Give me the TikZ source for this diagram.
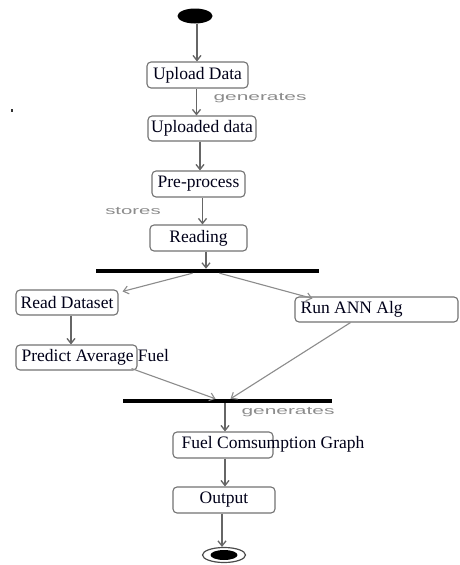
\documentclass[tikz,border=0pt]{standalone}
\usepackage{fontspec}
\setmainfont{Liberation Serif}
\newfontfamily\notefont{Liberation Sans}
\usetikzlibrary{arrows.meta,shapes.geometric,calc}
\tikzset{
  boxnode/.style={draw=black!55, line width=1.1pt, rounded corners=4pt, fill=white, inner sep=0pt, font=\fontsize{17.5}{20}\selectfont, text=black!90!blue},
  txt/.style={inner sep=0pt, anchor=west, font=\fontsize{17.5}{20}\selectfont, text=black!90!blue},
  barnode/.style={fill=black, inner sep=0pt, minimum height=4pt},
  arr/.style={draw=black!60, line width=1.3pt, -{Straight Barb[length=5pt,width=8pt]}},
  thin arr/.style={draw=black!45, line width=1.1pt, -{Straight Barb[length=5pt,width=8pt]}},
  note/.style={inner sep=0pt, text=black!45, font=\notefont\fontsize{11}{12}\selectfont},
}
\begin{document}
\begin{tikzpicture}[x=1pt,y=-1pt]
\useasboundingbox (0,0) rectangle (460,565);
\fill[white] (0,0) rectangle (460,565);

% start
\node[ellipse, fill=black, minimum width=35pt, minimum height=15pt, inner sep=0pt] (start) at (195,16) {};

% boxes
\node[boxnode, minimum width=101pt, minimum height=26pt] (up) at (197.5,75) {Upload Data};
\node[boxnode, minimum width=108pt, minimum height=25pt] (upd) at (202,128.5) {Uploaded data};
\node[boxnode, minimum width=93pt, minimum height=26pt] (pre) at (198.5,184) {Pre-process};
\node[boxnode, minimum width=97pt, minimum height=26pt] (read) at (198.5,238) {Reading};

\node[barnode, minimum width=223pt] (bar1) at (207.5,271) {};

\node[boxnode, minimum width=102pt, minimum height=25pt] (readds) at (67,302.5) {Read Dataset};
\node[boxnode, minimum width=163pt, minimum height=25pt] (runann) at (376.5,309.5) {};
\node[txt] (runanntxt) at ([xshift=6pt]runann.west) {Run ANN Alg};
\node[boxnode, minimum width=121pt, minimum height=25pt] (pred) at (76.5,357.5) {};
\node[txt] (predtxt) at ([xshift=6pt]pred.west) {Predict Average Fuel};

\node[barnode, minimum width=209pt] (bar2) at (227.5,401) {};

\node[boxnode, minimum width=100pt, minimum height=26pt] (fuel) at (223,445) {};
\node[txt] (fueltxt) at ([xshift=9pt,yshift=1pt]fuel.west) {Fuel Comsumption Graph};
\node[boxnode, minimum width=102pt, minimum height=26pt] (out) at (224,500) {Output};

% end
\node[ellipse, draw=black!70, line width=1.2pt, minimum width=43pt, minimum height=15pt, inner sep=0pt] (endo) at (224,555) {};
\node[ellipse, fill=black, minimum width=27pt, minimum height=10pt, inner sep=0pt] (endi) at (endo.center) {};

% notes
\node[note] (gen1) at (260,98) {\scalebox{1.9}[1]{generates}};
\node[note] (sto) at (133,211) {\scalebox{1.85}[1]{stores}};
\node[note] (gen2) at (288,412) {\scalebox{1.9}[1]{generates}};
\node[fill=black!80, inner sep=0pt, minimum width=2pt, minimum height=3pt] (dot) at (12,110) {};

% connectors
\draw[arr] ([xshift=2pt]start.south) -- ([xshift=2pt]start.south |- up.north);
\draw[arr] ([xshift=-1pt]up.south) -- ([xshift=-1pt]up.south |- upd.north);
\draw[arr] ([xshift=-2pt]upd.south) -- ([xshift=-2pt]upd.south |- pre.north);
\draw[arr] ([xshift=4pt]pre.south) -- ([xshift=4pt]pre.south |- read.north);
\draw[arr] ([xshift=7.5pt]read.south) -- ([xshift=7.5pt]read.south |- bar1.north);
\draw[thin arr] ([xshift=-15pt]bar1.south) -- ([xshift=4pt,yshift=-2pt]readds.north east);
\draw[thin arr] ([xshift=12pt]bar1.south) -- ([xshift=18pt,yshift=-2pt]runann.north west);
\draw[arr] ([xshift=4pt]readds.south) -- ([xshift=4pt]readds.south |- pred.north);
\draw[thin arr] ([xshift=-6pt,yshift=2pt]pred.south east) -- ([xshift=-12pt]bar2.north);
\draw[thin arr] ([xshift=-26pt]runann.south) -- ([xshift=3pt]bar2.north);
\draw[arr] ([xshift=2pt]fuel.north |- bar2.south) -- ([xshift=2pt]fuel.north);
\draw[arr] ([xshift=2pt]fuel.south) -- ([xshift=2pt]fuel.south |- out.north);
\draw[arr] ([xshift=-2pt]out.south) -- ([xshift=-2pt]out.south |- endo.north);
\end{tikzpicture}
\end{document}
